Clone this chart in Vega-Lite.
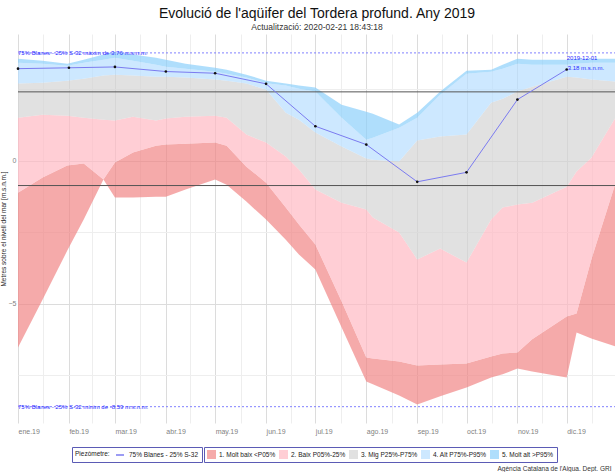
{
  "$schema": "https://vega.github.io/schema/vega-lite/v6.json",
  "width": 598,
  "height": 389,
  "autosize": {"type": "none"},
  "padding": {"left": 18, "top": 34, "right": 0, "bottom": 49},
  "background": "white",
  "config": {"font": "Liberation Sans", "view": {"stroke": null}},
  "title": {
    "text": "Evolució de l'aqüifer del Tordera profund. Any 2019",
    "subtitle": "Actualització: 2020-02-21 18:43:18",
    "fontSize": 14, "fontWeight": "normal", "color": "#111",
    "subtitleFontSize": 8.5, "subtitleColor": "#333",
    "anchor": "middle", "offset": 3, "subtitlePadding": 2
  },
  "datasets": {
    "bands": [
      {"date": "2019-01-01T00:00:00", "mn": -6.52, "p05": -1.12, "p25": 1.50, "p75": 2.69, "p95": 3.42, "mx": 3.56},
      {"date": "2019-01-16T00:00:00", "mn": -4.85, "p05": -0.59, "p25": 1.60, "p75": 2.72, "p95": 3.38, "mx": 3.49},
      {"date": "2019-01-31T00:00:00", "mn": -3.14, "p05": -0.17, "p25": 1.57, "p75": 2.79, "p95": 3.31, "mx": 3.38},
      {"date": "2019-02-10T00:00:00", "mn": -2.06, "p05": -0.10, "p25": 1.50, "p75": 2.86, "p95": 3.42, "mx": 3.52},
      {"date": "2019-02-22T00:00:00", "mn": -0.66, "p05": -0.66, "p25": 1.43, "p75": 2.97, "p95": 3.52, "mx": 3.70},
      {"date": "2019-03-01T00:00:00", "mn": -1.29, "p05": -0.07, "p25": 1.40, "p75": 3.00, "p95": 3.59, "mx": 3.80},
      {"date": "2019-03-12T00:00:00", "mn": -1.29, "p05": 0.28, "p25": 1.53, "p75": 2.97, "p95": 3.49, "mx": 3.70},
      {"date": "2019-03-26T00:00:00", "mn": -1.26, "p05": 0.52, "p25": 1.40, "p75": 2.93, "p95": 3.35, "mx": 3.59},
      {"date": "2019-04-01T00:00:00", "mn": -1.26, "p05": 0.56, "p25": 1.47, "p75": 2.93, "p95": 3.28, "mx": 3.52},
      {"date": "2019-04-13T00:00:00", "mn": -1.01, "p05": 0.59, "p25": 1.53, "p75": 2.90, "p95": 3.21, "mx": 3.38},
      {"date": "2019-05-01T00:00:00", "mn": -0.66, "p05": 0.63, "p25": 1.57, "p75": 2.83, "p95": 3.10, "mx": 3.24},
      {"date": "2019-05-08T00:00:00", "mn": -0.84, "p05": 0.52, "p25": 1.50, "p75": 2.79, "p95": 3.03, "mx": 3.17},
      {"date": "2019-05-20T00:00:00", "mn": -1.43, "p05": -0.21, "p25": 0.91, "p75": 2.69, "p95": 2.90, "mx": 3.00},
      {"date": "2019-06-01T00:00:00", "mn": -2.06, "p05": -0.77, "p25": 0.63, "p75": 2.48, "p95": 2.70, "mx": 2.79},
      {"date": "2019-06-13T00:00:00", "mn": -2.76, "p05": -1.64, "p25": 0.14, "p75": 1.67, "p95": 2.62, "mx": 2.69},
      {"date": "2019-06-21T00:00:00", "mn": -3.28, "p05": -2.23, "p25": -0.31, "p75": 1.43, "p95": 2.51, "mx": 2.62},
      {"date": "2019-07-01T00:00:00", "mn": -3.80, "p05": -2.93, "p25": -1.01, "p75": 0.98, "p95": 2.41, "mx": 2.55},
      {"date": "2019-07-17T00:00:00", "mn": -5.83, "p05": -4.92, "p25": -1.47, "p75": 0.49, "p95": 1.50, "mx": 1.95},
      {"date": "2019-08-01T00:00:00", "mn": -7.71, "p05": -6.87, "p25": -1.71, "p75": 0.07, "p95": 0.73, "mx": 1.71},
      {"date": "2019-08-05T00:00:00", "mn": -7.81, "p05": -6.91, "p25": -1.99, "p75": 0.03, "p95": 0.80, "mx": 1.64},
      {"date": "2019-08-21T00:00:00", "mn": -8.20, "p05": -7.01, "p25": -2.51, "p75": -0.03, "p95": 1.15, "mx": 1.26},
      {"date": "2019-09-01T00:00:00", "mn": -8.51, "p05": -7.15, "p25": -3.45, "p75": 0.70, "p95": 1.50, "mx": 1.67},
      {"date": "2019-09-15T00:00:00", "mn": -8.23, "p05": -7.12, "p25": -3.07, "p75": 0.84, "p95": 2.30, "mx": 2.41},
      {"date": "2019-10-01T00:00:00", "mn": -7.92, "p05": -7.08, "p25": -3.56, "p75": 0.91, "p95": 3.03, "mx": 3.14},
      {"date": "2019-10-16T00:00:00", "mn": -7.57, "p05": -6.84, "p25": -2.06, "p75": 2.02, "p95": 3.10, "mx": 3.17},
      {"date": "2019-10-23T00:00:00", "mn": -7.46, "p05": -6.73, "p25": -1.64, "p75": 2.16, "p95": 3.21, "mx": 3.35},
      {"date": "2019-11-01T00:00:00", "mn": -7.26, "p05": -6.70, "p25": -1.53, "p75": 2.41, "p95": 3.38, "mx": 3.56},
      {"date": "2019-11-10T00:00:00", "mn": -7.36, "p05": -6.24, "p25": -1.47, "p75": 2.58, "p95": 3.35, "mx": 3.52},
      {"date": "2019-12-01T00:00:00", "mn": -7.57, "p05": -5.44, "p25": -0.91, "p75": 2.93, "p95": 3.35, "mx": 3.52},
      {"date": "2019-12-07T00:00:00", "mn": -6.00, "p05": -5.34, "p25": -0.38, "p75": 2.90, "p95": 3.38, "mx": 3.56},
      {"date": "2019-12-16T00:00:00", "mn": -6.21, "p05": -3.45, "p25": 0.10, "p75": 2.83, "p95": 3.42, "mx": 3.56},
      {"date": "2019-12-31T00:00:00", "mn": -6.49, "p05": -0.73, "p25": 1.53, "p75": 2.76, "p95": 3.42, "mx": 3.56}
    ],
    "piezo": [
      {"date": "2019-01-01T00:00:00", "value": 3.21},
      {"date": "2019-02-01T00:00:00", "value": 3.24},
      {"date": "2019-03-01T00:00:00", "value": 3.27},
      {"date": "2019-04-01T00:00:00", "value": 3.11},
      {"date": "2019-05-01T00:00:00", "value": 3.05},
      {"date": "2019-06-01T00:00:00", "value": 2.68},
      {"date": "2019-07-01T00:00:00", "value": 1.20},
      {"date": "2019-08-01T00:00:00", "value": 0.56},
      {"date": "2019-09-01T00:00:00", "value": -0.74},
      {"date": "2019-10-01T00:00:00", "value": -0.41},
      {"date": "2019-11-01T00:00:00", "value": 2.13},
      {"date": "2019-12-01T00:00:00", "value": 3.18}
    ],
    "refs": [
      {"date": "2019-01-01T00:00:00", "value": 3.76, "label": "75% Blanes - 25% S-32  màxim de 3.76 m.s.n.m."},
      {"date": "2019-01-01T00:00:00", "value": -8.59, "label": "75% Blanes - 25% S-32  mínim de -8.59 m.s.n.m."}
    ],
    "thr": [{"value": 2.40}, {"value": -0.87}],
    "last": [{"date": "2019-12-01T00:00:00", "value": 3.18, "d": "2019-12-01", "m": "3.18 m.s.n.m."}]
  },
  "resolve": {"axis": {"x": "independent", "y": "independent"}},
  "layer": [
    {
      "data": {"name": "bands"},
      "mark": {"type": "area", "opacity": 0.67},
      "encoding": {
        "x": {"field": "date", "type": "temporal",
          "scale": {"domain": [{"year": 2019, "month": 1, "date": 1}, {"year": 2019, "month": 12, "date": 31}]},
          "axis": {"orient": "bottom", "grid": true, "gridColor": "#eeeeee", "gridWidth": 1, "labels": false, "ticks": false, "domain": false, "title": null,
            "values": [
              {"year": 2019, "month": 1, "date": 16, "hours": 12},
              {"year": 2019, "month": 2, "date": 15},
              {"year": 2019, "month": 3, "date": 16, "hours": 12},
              {"year": 2019, "month": 4, "date": 16},
              {"year": 2019, "month": 5, "date": 16, "hours": 12},
              {"year": 2019, "month": 6, "date": 16},
              {"year": 2019, "month": 7, "date": 16, "hours": 12},
              {"year": 2019, "month": 8, "date": 16, "hours": 12},
              {"year": 2019, "month": 9, "date": 16},
              {"year": 2019, "month": 10, "date": 16, "hours": 12},
              {"year": 2019, "month": 11, "date": 16},
              {"year": 2019, "month": 12, "date": 16, "hours": 12}
            ]}},
        "y": {"field": "mn", "type": "quantitative",
          "scale": {"domain": [-9.16, 4.42], "nice": false, "zero": false},
          "axis": {"orient": "left", "values": [-7.5, -2.5, 2.5], "grid": true, "gridColor": "#eeeeee", "labels": false, "ticks": false, "domain": false, "title": null}},
        "y2": {"field": "p05"},
        "color": {"datum": "1. Molt baix <P05%", "type": "nominal",
          "scale": {"domain": ["1. Molt baix <P05%", "2. Baix P05%-25%", "3. Mig P25%-P75%", "4. Alt P75%-P95%", "5. Molt alt >P95%"],
                    "range": ["#F08080", "#FFB6C1", "#D3D3D3", "#B4DCFF", "#87CEFA"]},
          "legend": {"title": null, "orient": "none", "legendX": 186, "legendY": 413, "direction": "horizontal",
            "symbolType": "square", "symbolSize": 81, "symbolOpacity": 1, "symbolStrokeWidth": 0,
            "labelFontSize": 6.5, "labelColor": "#222", "labelOffset": 3, "columnPadding": 3, "padding": 3,
            "strokeColor": "#5b5bb5"}}
      }
    },
    {
      "data": {"name": "bands"},
      "mark": {"type": "area", "opacity": 0.67},
      "encoding": {
        "x": {"field": "date", "type": "temporal",
          "scale": {"domain": [{"year": 2019, "month": 1, "date": 1}, {"year": 2019, "month": 12, "date": 31}]},
          "axis": {"orient": "bottom", "grid": true, "gridColor": "#dcdcdc", "gridWidth": 1, "ticks": false, "domain": false,
            "values": [
              {"year": 2019, "month": 1, "date": 1}, {"year": 2019, "month": 2, "date": 1}, {"year": 2019, "month": 3, "date": 1},
              {"year": 2019, "month": 4, "date": 1}, {"year": 2019, "month": 5, "date": 1}, {"year": 2019, "month": 6, "date": 1},
              {"year": 2019, "month": 7, "date": 1}, {"year": 2019, "month": 8, "date": 1}, {"year": 2019, "month": 9, "date": 1},
              {"year": 2019, "month": 10, "date": 1}, {"year": 2019, "month": 11, "date": 1}, {"year": 2019, "month": 12, "date": 1}
            ],
            "labelExpr": "['ene','feb','mar','abr','may','jun','jul','ago','sep','oct','nov','dic'][month(datum.value)] + '.19'",
            "labelAlign": "left", "labelFontSize": 7, "labelColor": "#7f7f7f", "labelPadding": 4, "labelOverlap": false, "labelFlush": false,
            "title": "Agència Catalana de l'Aigua. Dept. GRI",
            "titleX": 479, "titleY": 47, "titleAlign": "left", "titleBaseline": "alphabetic", "titleAnchor": "start",
            "titleFontSize": 6.5, "titleFontWeight": "normal", "titleColor": "#333"}},
        "y": {"field": "p05", "type": "quantitative",
          "scale": {"domain": [-9.16, 4.42], "nice": false, "zero": false},
          "axis": {"orient": "left", "values": [-5, 0], "grid": true, "gridColor": "#dcdcdc", "ticks": false, "domain": false,
            "labelFontSize": 7, "labelColor": "#7f7f7f", "labelPadding": 2,
            "title": "Metres sobre el nivell del mar [m.s.n.m.]", "titleFontSize": 6.5, "titleFontWeight": "normal", "titleColor": "#222", "titlePadding": 2}},
        "y2": {"field": "p25"},
        "color": {"datum": "2. Baix P05%-25%", "type": "nominal"}
      }
    },
    {
      "data": {"name": "bands"},
      "mark": {"type": "area", "opacity": 0.67},
      "encoding": {
        "x": {"field": "date", "type": "temporal", "axis": null,
          "scale": {"domain": [{"year": 2019, "month": 1, "date": 1}, {"year": 2019, "month": 12, "date": 31}]}},
        "y": {"field": "p25", "type": "quantitative", "axis": null,
          "scale": {"domain": [-9.16, 4.42], "nice": false, "zero": false}},
        "y2": {"field": "p75"},
        "color": {"datum": "3. Mig P25%-P75%", "type": "nominal"}
      }
    },
    {
      "data": {"name": "bands"},
      "mark": {"type": "area", "opacity": 0.67},
      "encoding": {
        "x": {"field": "date", "type": "temporal", "axis": null,
          "scale": {"domain": [{"year": 2019, "month": 1, "date": 1}, {"year": 2019, "month": 12, "date": 31}]}},
        "y": {"field": "p75", "type": "quantitative", "axis": null,
          "scale": {"domain": [-9.16, 4.42], "nice": false, "zero": false}},
        "y2": {"field": "p95"},
        "color": {"datum": "4. Alt P75%-P95%", "type": "nominal"}
      }
    },
    {
      "data": {"name": "bands"},
      "mark": {"type": "area", "opacity": 0.67},
      "encoding": {
        "x": {"field": "date", "type": "temporal", "axis": null,
          "scale": {"domain": [{"year": 2019, "month": 1, "date": 1}, {"year": 2019, "month": 12, "date": 31}]}},
        "y": {"field": "p95", "type": "quantitative", "axis": null,
          "scale": {"domain": [-9.16, 4.42], "nice": false, "zero": false}},
        "y2": {"field": "mx"},
        "color": {"datum": "5. Molt alt >P95%", "type": "nominal"}
      }
    },
    {
      "data": {"name": "thr"},
      "mark": {"type": "rule", "color": "#555555", "strokeWidth": 1},
      "encoding": {
        "y": {"field": "value", "type": "quantitative", "axis": null,
          "scale": {"domain": [-9.16, 4.42], "nice": false, "zero": false}}
      }
    },
    {
      "data": {"name": "refs"},
      "mark": {"type": "rule", "color": "#8080ff", "strokeWidth": 1, "strokeDash": [2, 2]},
      "encoding": {
        "y": {"field": "value", "type": "quantitative", "axis": null,
          "scale": {"domain": [-9.16, 4.42], "nice": false, "zero": false}}
      }
    },
    {
      "data": {"name": "refs"},
      "mark": {"type": "text", "align": "left", "baseline": "middle", "fontSize": 6, "color": "#2a2aff"},
      "encoding": {
        "x": {"field": "date", "type": "temporal", "axis": null,
          "scale": {"domain": [{"year": 2019, "month": 1, "date": 1}, {"year": 2019, "month": 12, "date": 31}]}},
        "y": {"field": "value", "type": "quantitative", "axis": null,
          "scale": {"domain": [-9.16, 4.42], "nice": false, "zero": false}},
        "text": {"field": "label"}
      }
    },
    {
      "data": {"name": "piezo"},
      "mark": {"type": "line", "strokeWidth": 1},
      "encoding": {
        "x": {"field": "date", "type": "temporal", "axis": null,
          "scale": {"domain": [{"year": 2019, "month": 1, "date": 1}, {"year": 2019, "month": 12, "date": 31}]}},
        "y": {"field": "value", "type": "quantitative", "axis": null,
          "scale": {"domain": [-9.16, 4.42], "nice": false, "zero": false}},
        "stroke": {"datum": "75% Blanes - 25% S-32", "type": "nominal",
          "scale": {"range": ["#7b7bf0"]},
          "legend": {"title": "Piezòmetre:", "titleOrient": "left", "orient": "none", "legendX": 54, "legendY": 413,
            "symbolType": "stroke", "symbolSize": 64, "symbolStrokeWidth": 1.5,
            "labelFontSize": 6.5, "labelColor": "#222", "labelOffset": 4,
            "titleFontSize": 6.5, "titleFontWeight": "normal", "titleColor": "#222", "titlePadding": 5,
            "padding": 3, "strokeColor": "#5b5bb5"}}
      }
    },
    {
      "data": {"name": "piezo"},
      "mark": {"type": "point", "filled": true, "size": 7, "color": "#111111", "opacity": 1},
      "encoding": {
        "x": {"field": "date", "type": "temporal", "axis": null,
          "scale": {"domain": [{"year": 2019, "month": 1, "date": 1}, {"year": 2019, "month": 12, "date": 31}]}},
        "y": {"field": "value", "type": "quantitative", "axis": null,
          "scale": {"domain": [-9.16, 4.42], "nice": false, "zero": false}}
      }
    },
    {
      "data": {"name": "last"},
      "mark": {"type": "text", "align": "left", "baseline": "middle", "fontSize": 6, "color": "#2a2aff", "dy": -11.5},
      "encoding": {
        "x": {"field": "date", "type": "temporal", "axis": null,
          "scale": {"domain": [{"year": 2019, "month": 1, "date": 1}, {"year": 2019, "month": 12, "date": 31}]}},
        "y": {"field": "value", "type": "quantitative", "axis": null,
          "scale": {"domain": [-9.16, 4.42], "nice": false, "zero": false}},
        "text": {"field": "d"}
      }
    },
    {
      "data": {"name": "last"},
      "mark": {"type": "text", "align": "left", "baseline": "middle", "fontSize": 6, "color": "#2a2aff", "dy": -2, "dx": 1},
      "encoding": {
        "x": {"field": "date", "type": "temporal", "axis": null,
          "scale": {"domain": [{"year": 2019, "month": 1, "date": 1}, {"year": 2019, "month": 12, "date": 31}]}},
        "y": {"field": "value", "type": "quantitative", "axis": null,
          "scale": {"domain": [-9.16, 4.42], "nice": false, "zero": false}},
        "text": {"field": "m"}
      }
    }
  ]
}
